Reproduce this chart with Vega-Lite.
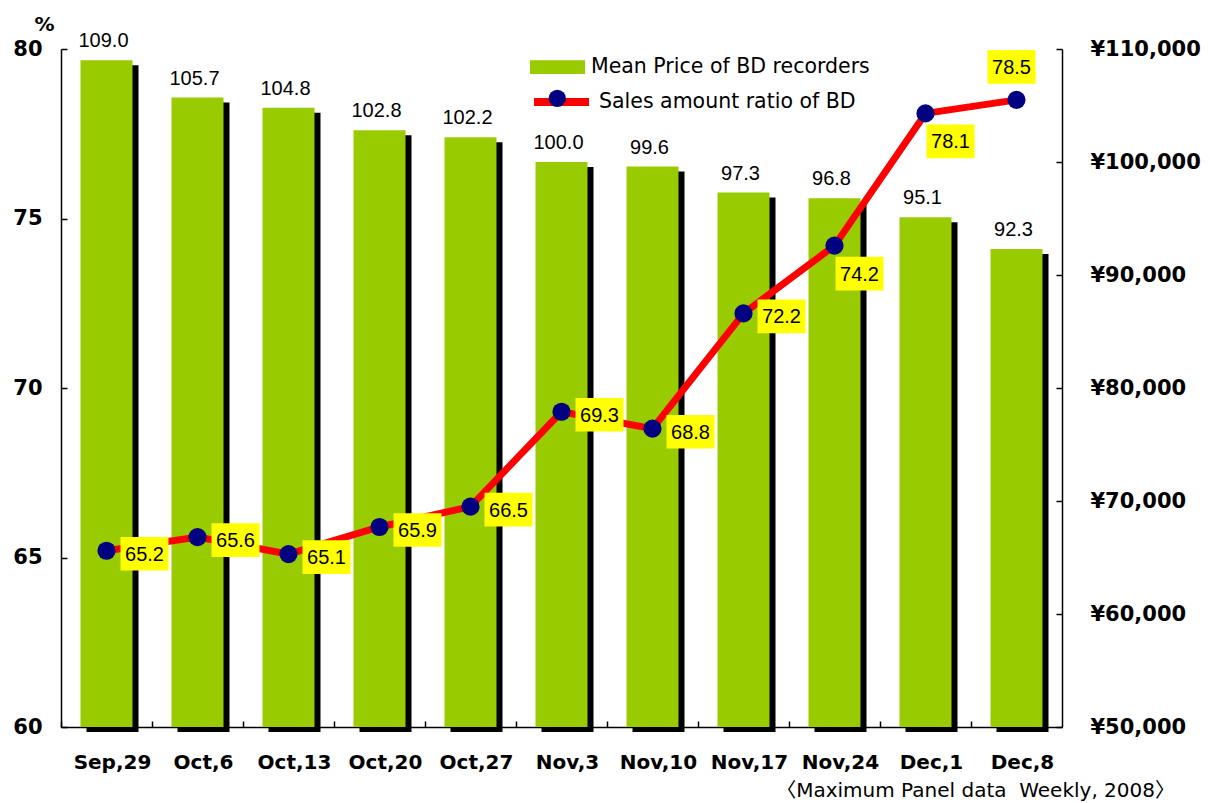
{
  "$schema": "https://vega.github.io/schema/vega-lite/v6.json",
  "width": 1001,
  "height": 678,
  "autosize": {"type": "none"},
  "padding": {"left": 61, "top": 49, "right": 148, "bottom": 76},
  "background": "white",
  "config": {"view": {"stroke": null}, "axis": {"grid": false}},
  "title": {
    "text": "〈Maximum Panel data\u00a0 Weekly, 2008〉",
    "orient": "bottom",
    "anchor": "end",
    "frame": "group",
    "font": "DejaVu Sans, Noto Sans CJK JP",
    "fontSize": 20,
    "fontWeight": "normal",
    "color": "black",
    "dx": 113,
    "offset": 9
  },
  "data": {
    "values": [
      {"week": "Sep,29", "price": 109000, "idx": 109.0, "ratio": 65.2},
      {"week": "Oct,6", "price": 105700, "idx": 105.7, "ratio": 65.6},
      {"week": "Oct,13", "price": 104800, "idx": 104.8, "ratio": 65.1},
      {"week": "Oct,20", "price": 102800, "idx": 102.8, "ratio": 65.9},
      {"week": "Oct,27", "price": 102200, "idx": 102.2, "ratio": 66.5},
      {"week": "Nov,3", "price": 100000, "idx": 100.0, "ratio": 69.3},
      {"week": "Nov,10", "price": 99600, "idx": 99.6, "ratio": 68.8},
      {"week": "Nov,17", "price": 97300, "idx": 97.3, "ratio": 72.2},
      {"week": "Nov,24", "price": 96800, "idx": 96.8, "ratio": 74.2},
      {"week": "Dec,1", "price": 95100, "idx": 95.1, "ratio": 78.1},
      {"week": "Dec,8", "price": 92300, "idx": 92.3, "ratio": 78.5}
    ]
  },
  "encoding": {
    "x": {
      "field": "week",
      "type": "nominal",
      "sort": null,
      "scale": {"paddingInner": 0, "paddingOuter": 0},
      "axis": {
        "title": null,
        "domainColor": "black",
        "domainWidth": 1.5,
        "bandPosition": 0,
        "tickSize": -6,
        "tickColor": "black",
        "tickWidth": 1.5,
        "labelOffset": 6,
        "labelAngle": 0,
        "labelFont": "DejaVu Sans",
        "labelFontWeight": "bold",
        "labelFontSize": 20,
        "labelColor": "black",
        "labelPadding": 31
      }
    }
  },
  "layer": [
    {
      "encoding": {
        "y": {
          "field": "price",
          "type": "quantitative",
          "scale": {"domain": [50000, 110000], "nice": false, "zero": false},
          "axis": {
            "orient": "right",
            "title": null,
            "values": [50000, 60000, 70000, 80000, 90000, 100000, 110000],
            "labelExpr": "'¥' + format(datum.value, ',')",
            "tickSize": -6,
            "tickColor": "black",
            "tickWidth": 1.5,
            "domainColor": "black",
            "domainWidth": 1.5,
            "labelFont": "DejaVu Sans",
            "labelFontWeight": "bold",
            "labelFontSize": 21,
            "labelColor": "black",
            "labelPadding": 34
          }
        }
      },
      "layer": [
        {
          "mark": {"type": "bar", "width": 52, "color": "black", "xOffset": 6, "yOffset": 5, "y2Offset": 5},
          "encoding": {"y2": {"datum": 50000}}
        },
        {
          "mark": {"type": "bar", "width": 52},
          "encoding": {
            "y2": {"datum": 50000},
            "fill": {
              "datum": "Mean Price of BD recorders",
              "scale": {"range": ["#99CC00"]},
              "legend": {
                "orient": "none",
                "legendX": 469,
                "legendY": -9.5,
                "padding": 0,
                "title": null,
                "symbolType": "M-1,-0.25L1,-0.25L1,0.25L-1,0.25Z",
                "symbolSize": 3025,
                "symbolStrokeWidth": 0,
                "labelFont": "DejaVu Sans",
                "labelFontSize": 20.5,
                "labelColor": "black",
                "labelOffset": 6,
                "labelLimit": 0
              }
            }
          }
        },
        {
          "mark": {"type": "text", "font": "Liberation Sans", "fontSize": 20, "color": "black", "baseline": "alphabetic", "dy": -13, "xOffset": -3},
          "encoding": {"text": {"field": "idx", "type": "quantitative", "format": ".1f"}}
        }
      ]
    },
    {
      "encoding": {
        "y": {
          "field": "ratio",
          "type": "quantitative",
          "scale": {"domain": [60, 80], "nice": false, "zero": false},
          "axis": {
            "orient": "left",
            "title": "%",
            "titleAngle": 0,
            "titleX": -17,
            "titleY": -25,
            "titleAlign": "center",
            "titleBaseline": "middle",
            "titleFont": "DejaVu Sans",
            "titleFontSize": 20,
            "titleFontWeight": "bold",
            "titleColor": "black",
            "values": [60, 65, 70, 75, 80],
            "tickSize": -6,
            "tickColor": "black",
            "tickWidth": 1.5,
            "domainColor": "black",
            "domainWidth": 1.5,
            "labelFont": "DejaVu Sans",
            "labelFontWeight": "bold",
            "labelFontSize": 21,
            "labelColor": "black",
            "labelPadding": 25
          }
        }
      },
      "layer": [
        {
          "mark": {"type": "line", "strokeWidth": 7},
          "encoding": {
            "stroke": {
              "datum": "Sales amount ratio of BD",
              "scale": {"range": ["#FF0000"]},
              "legend": {
                "orient": "none",
                "legendX": 469,
                "legendY": 21.5,
                "padding": 0,
                "title": null,
                "symbolType": "stroke",
                "symbolSize": 3025,
                "symbolStrokeWidth": 8,
                "labelFont": "DejaVu Sans",
                "labelFontSize": 20.5,
                "labelColor": "black",
                "labelOffset": 6,
                "labelLimit": 0,
                "zindex": 1
              }
            }
          }
        },
        {
          "mark": {"type": "point", "filled": true, "color": "#000080", "size": 330, "opacity": 1, "strokeWidth": 0},
          "encoding": {
            "shape": {
              "datum": "pt",
              "scale": {"range": ["circle"]},
              "legend": {
                "orient": "none",
                "legendX": 487.3,
                "legendY": 40.3,
                "padding": 0,
                "title": null,
                "symbolSize": 300,
                "symbolFillColor": "#000080",
                "symbolStrokeColor": "#000080",
                "symbolStrokeWidth": 0,
                "labelExpr": "''",
                "zindex": 2
              }
            }
          }
        },
        {
          "transform": [{"filter": {"not": {"field": "week", "oneOf": ["Nov,24", "Dec,1", "Dec,8"]}}}],
          "layer": [
            {"mark": {"type": "point", "shape": "M-1,-0.7L1,-0.7L1,0.7L-1,0.7Z", "size": 2304, "filled": true, "color": "#FFFF00", "opacity": 1, "strokeWidth": 0, "xOffset": 38, "yOffset": 3}},
            {"mark": {"type": "text", "font": "Liberation Sans", "fontSize": 20, "color": "black", "baseline": "middle", "xOffset": 38, "yOffset": 4}, "encoding": {"text": {"field": "ratio", "type": "quantitative", "format": ".1f"}}}
          ]
        },
        {
          "transform": [{"filter": {"field": "week", "oneOf": ["Nov,24", "Dec,1"]}}],
          "layer": [
            {"mark": {"type": "point", "shape": "M-1,-0.7L1,-0.7L1,0.7L-1,0.7Z", "size": 2304, "filled": true, "color": "#FFFF00", "opacity": 1, "strokeWidth": 0, "xOffset": 25, "yOffset": 28}},
            {"mark": {"type": "text", "font": "Liberation Sans", "fontSize": 20, "color": "black", "baseline": "middle", "xOffset": 25, "yOffset": 29}, "encoding": {"text": {"field": "ratio", "type": "quantitative", "format": ".1f"}}}
          ]
        },
        {
          "transform": [{"filter": {"field": "week", "equal": "Dec,8"}}],
          "layer": [
            {"mark": {"type": "point", "shape": "M-1,-0.7L1,-0.7L1,0.7L-1,0.7Z", "size": 2304, "filled": true, "color": "#FFFF00", "opacity": 1, "strokeWidth": 0, "xOffset": -5, "yOffset": -33}},
            {"mark": {"type": "text", "font": "Liberation Sans", "fontSize": 20, "color": "black", "baseline": "middle", "xOffset": -5, "yOffset": -32}, "encoding": {"text": {"field": "ratio", "type": "quantitative", "format": ".1f"}}}
          ]
        }
      ]
    }
  ],
  "resolve": {"scale": {"y": "independent"}}
}
